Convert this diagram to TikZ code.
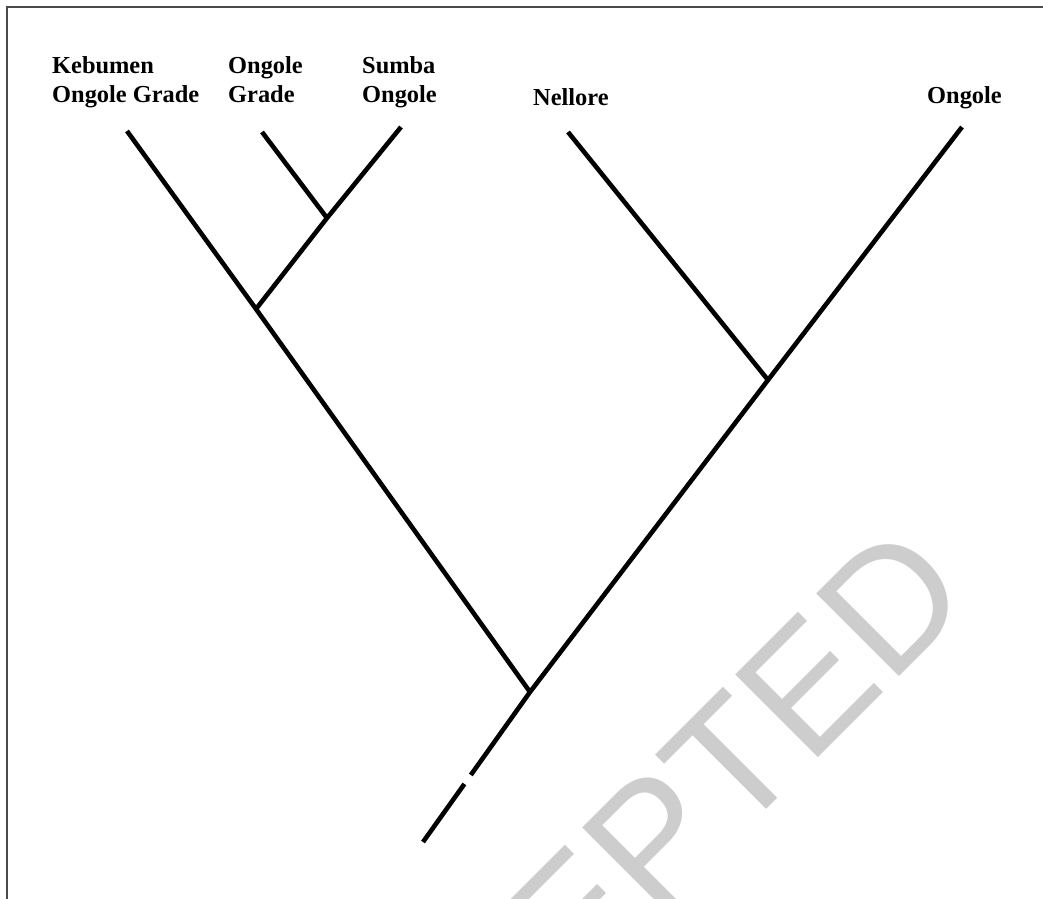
\documentclass[tikz,border=0pt]{standalone}
\usepackage{fontspec}
\setmainfont{Liberation Serif}
\newfontfamily\wmfont{Liberation Sans}
\usetikzlibrary{calc}
\definecolor{wmgray}{HTML}{CDCDCD}
\definecolor{framegray}{HTML}{4A4A4A}
\begin{document}
\begin{tikzpicture}[x=1pt,y=-1pt,
  branch/.style={line width=4.6pt, black},
  taxon/.style={inner sep=0pt, anchor=base west, align=left,
    font=\fontsize{24.4}{29}\selectfont\bfseries},
  watermark/.style={inner sep=0pt, rotate=45, anchor=base east, text=wmgray,
    font=\fontsize{170}{170}\selectfont\wmfont}]
\useasboundingbox (0,0) rectangle (1043,898);
\clip (0,0) rectangle (1043,898);
\fill[white] (0,0) rectangle (1043,898);
% watermark
\node[watermark] (wm) at (976,600) {ACCEPTED};
% frame
\coordinate (fbl) at (7,910);
\coordinate (ftl) at (7,7);
\coordinate (ftr) at (1060,7);
\draw[framegray, line width=2pt] (fbl) -- (ftl) -- (ftr);
% labels (anchor at baseline of the last line)
\node[taxon] (lk) at (52,102) {Kebumen\\Ongole Grade};
\node[taxon] (log) at (228,102) {Ongole\\Grade};
\node[taxon] (lso) at (362,102) {Sumba\\Ongole};
\node[taxon] (ln) at (533,105) {Nellore};
\node[taxon] (lo) at (927,103) {Ongole};
% leaf tips
\coordinate (K) at (127,131);
\coordinate (OG) at (262,132);
\coordinate (SO) at (401,127);
\coordinate (N) at (568,132);
\coordinate (O) at (962,127);
% internal nodes
\coordinate (B) at (327,218);
\coordinate (A) at (256,309);
\coordinate (C) at (768,380);
\coordinate (R) at (530,692);
\coordinate (E0) at (423,842);
\coordinate (g1) at ($(R)!0.553!(E0)$);
\coordinate (g2) at ($(R)!0.613!(E0)$);
% branches
\draw[branch] (K) -- (A) -- (R);
\draw[branch] (OG) -- (B);
\draw[branch] (SO) -- (B) -- (A);
\draw[branch] (N) -- (C);
\draw[branch] (O) -- (C) -- (R) -- (g1);
\draw[branch] (g2) -- (E0);
\end{tikzpicture}
\end{document}
